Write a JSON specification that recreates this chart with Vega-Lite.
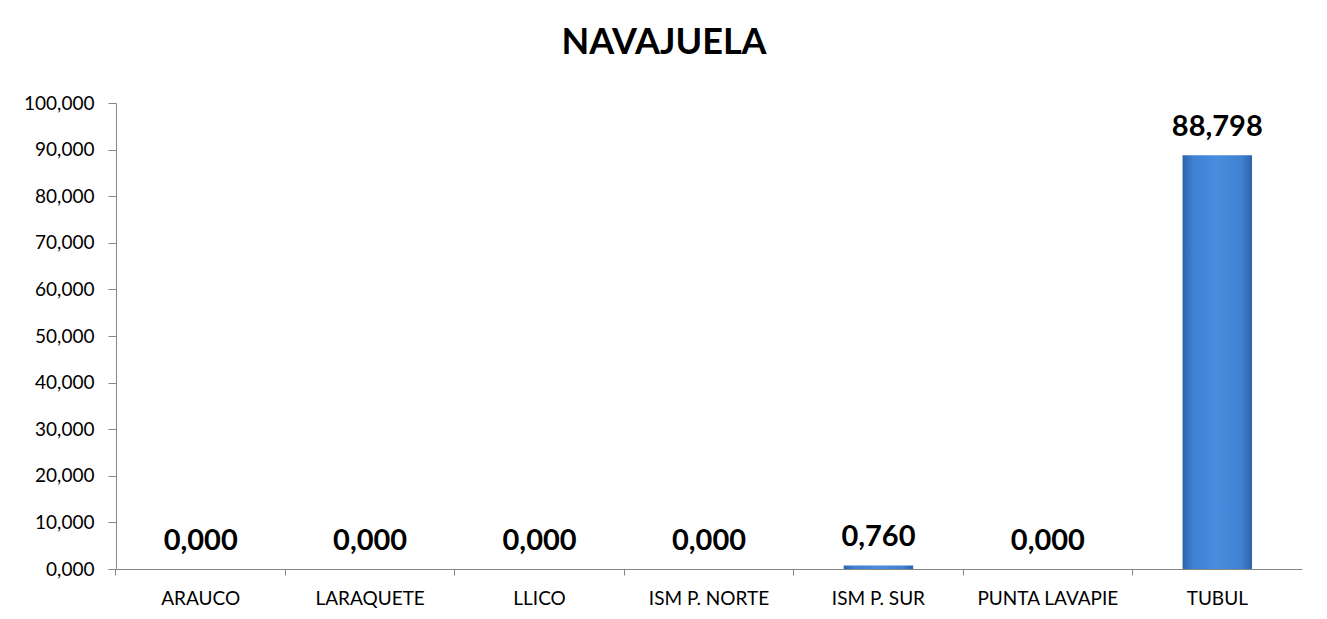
{
  "$schema": "https://vega.github.io/schema/vega-lite/v6.json",
  "width": 1186,
  "height": 466,
  "autosize": {"type": "none"},
  "padding": {"left": 116, "top": 103, "right": 25, "bottom": 50},
  "background": "white",
  "config": {
    "locale": {"number": {"decimal": ",", "thousands": ".", "grouping": [3], "currency": ["", ""]}},
    "font": "Lato",
    "view": {"stroke": null}
  },
  "title": {
    "text": "NAVAJUELA",
    "font": "Lato",
    "fontSize": 36,
    "fontWeight": "bold",
    "color": "black",
    "anchor": "middle",
    "dx": -45,
    "offset": 32
  },
  "data": {
    "values": [
      {"site": "ARAUCO", "value": 0},
      {"site": "LARAQUETE", "value": 0},
      {"site": "LLICO", "value": 0},
      {"site": "ISM P. NORTE", "value": 0},
      {"site": "ISM P. SUR", "value": 0.76},
      {"site": "PUNTA LAVAPIE", "value": 0},
      {"site": "TUBUL", "value": 88.798}
    ]
  },
  "encoding": {
    "x": {
      "field": "site",
      "type": "nominal",
      "sort": null,
      "scale": {"paddingInner": 0.59, "paddingOuter": 0.295},
      "axis": {
        "title": null,
        "labelAngle": 0,
        "labelFontSize": 19,
        "labelColor": "black",
        "labelPadding": 14,
        "domainColor": "#868686",
        "tickColor": "#868686",
        "tickSize": 6,
        "bandPosition": -0.72,
        "ticks": true
      }
    },
    "y": {
      "field": "value",
      "type": "quantitative",
      "scale": {"domain": [0, 100]},
      "axis": {
        "title": null,
        "format": ".3f",
        "values": [0, 10, 20, 30, 40, 50, 60, 70, 80, 90, 100],
        "grid": false,
        "labelFontSize": 19,
        "labelColor": "black",
        "labelPadding": 14,
        "domainColor": "#868686",
        "tickColor": "#868686",
        "tickSize": 8
      }
    }
  },
  "layer": [
    {
      "mark": {
        "type": "bar",
        "color": {
          "gradient": "linear",
          "x1": 0, "x2": 1, "y1": 0, "y2": 0,
          "stops": [
            {"offset": 0, "color": "#2D64AA"},
            {"offset": 0.15, "color": "#3E80D2"},
            {"offset": 0.5, "color": "#4A8DDD"},
            {"offset": 0.85, "color": "#3E80D2"},
            {"offset": 1, "color": "#2D64AA"}
          ]
        }
      }
    },
    {
      "mark": {
        "type": "text",
        "baseline": "bottom",
        "dy": -13,
        "fontSize": 29,
        "fontWeight": "bold",
        "color": "black"
      },
      "encoding": {
        "text": {"field": "value", "type": "quantitative", "format": ".3f"}
      }
    }
  ]
}
